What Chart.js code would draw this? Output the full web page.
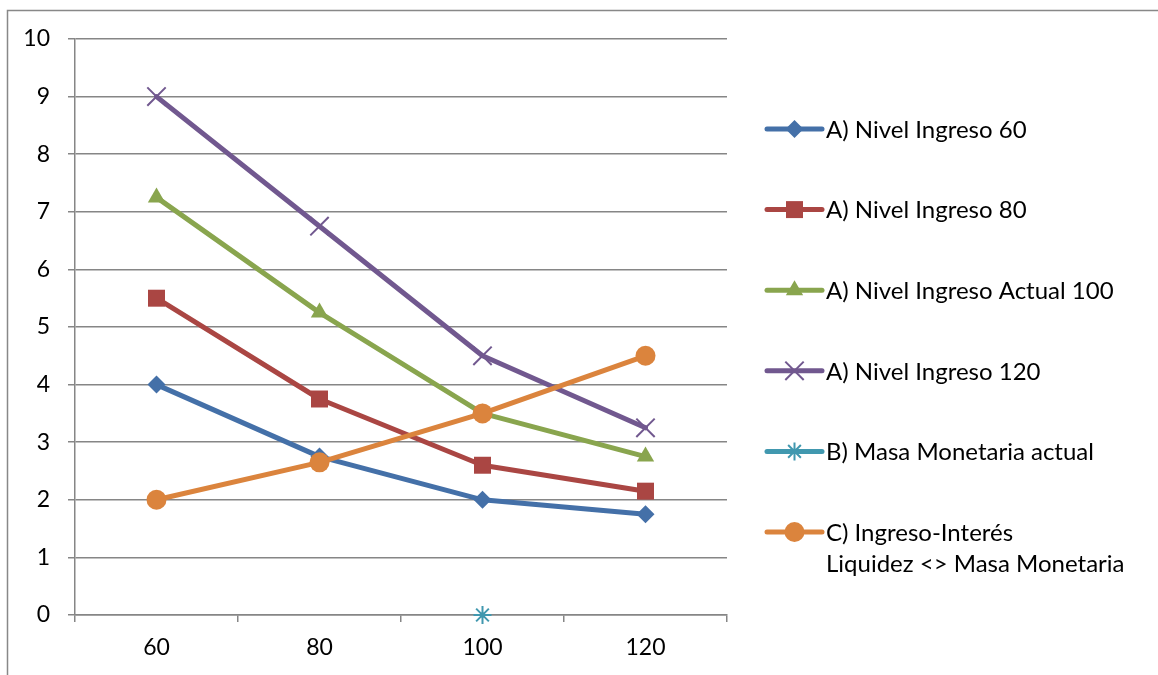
<!DOCTYPE html>
<html>
<head>
<meta charset="utf-8">
<script src="https://cdn.jsdelivr.net/npm/chart.js"></script>
<style>
  html, body { margin: 0; padding: 0; background: #fff; }
  #wrap { width: 1158px; height: 675px; position: relative; }
</style>
</head>
<body>
<div id="wrap"><canvas id="myChart"></canvas></div>
<script>
var xLabels = ["60", "80", "100", "120"];
var seriesNames = [
    "A) Nivel Ingreso 60",
    "A) Nivel Ingreso 80",
    "A) Nivel Ingreso Actual 100",
    "A) Nivel Ingreso 120",
    "B) Masa Monetaria actual",
    ["C) Ingreso-Interés", "Liquidez <> Masa Monetaria"]
];
var ingreso60 = [4, 2.75, 2, 1.75];
var ingreso80 = [5.5, 3.75, 2.6, 2.15];
var ingreso100 = [7.25, 5.25, 3.5, 2.75];
var ingreso120 = [9, 6.75, 4.5, 3.25];
var masaMonetaria = [null, null, 0, null];
var ingresoInteres = [2, 2.65, 3.5, 4.5];
var yTicks = [0, 1, 2, 3, 4, 5, 6, 7, 8, 9, 10];

var colors = ["#4470A8", "#AA4643", "#89A54E", "#71588F", "#4198AF", "#DB843D"];
var markers = ["rectRot", "rect", "triangle", "crossRot", "star", "circle"];
var radii = [9, 12, 10, 13, 9, 10];
var allData = [ingreso60, ingreso80, ingreso100, ingreso120, masaMonetaria, ingresoInteres];

var gridColor = "#868686";
var font = "Lato, 'Open Sans', sans-serif";
var fontSize = 23;
var legendFontSize = 24;

var datasets = allData.map(function (d, i) {
    var isCross = markers[i] === "crossRot" || markers[i] === "star";
    return {
        label: Array.isArray(seriesNames[i]) ? seriesNames[i].join(" ") : seriesNames[i],
        data: d,
        borderColor: colors[i],
        backgroundColor: colors[i],
        borderWidth: 5,
        borderCapStyle: "round",
        borderJoinStyle: "round",
        tension: 0,
        pointStyle: markers[i],
        pointRadius: radii[i],
        pointHoverRadius: radii[i],
        pointBorderWidth: isCross ? 2 : 0,
        pointBackgroundColor: colors[i],
        pointBorderColor: colors[i],
        clip: false,
        order: 6 - i
    };
});

// Excel-style legend: short line with the marker, then the name
var excelLegend = {
    id: "excelLegend",
    beforeDraw: function (chart) {
        var ctx = chart.ctx;
        ctx.save();
        ctx.strokeStyle = "#888888";
        ctx.lineWidth = 1.5;
        ctx.strokeRect(7.5, 10.5, 3000, 3000);
        ctx.restore();
    },
    afterDraw: function (chart) {
        var ctx = chart.ctx;
        var x0 = 767, x1 = 822, tx = 826, y = 129, step = 80.6;
        ctx.save();
        chart.data.datasets.forEach(function (ds, i) {
            ctx.strokeStyle = ds.borderColor;
            ctx.fillStyle = ds.borderColor;
            ctx.lineWidth = 5;
            ctx.lineCap = "round";
            ctx.beginPath();
            ctx.moveTo(x0, y);
            ctx.lineTo(x1, y);
            ctx.stroke();
            ctx.lineWidth = ds.pointBorderWidth || 0;
            ctx.lineCap = "butt";
            Chart.helpers.drawPoint(ctx, {
                pointStyle: ds.pointStyle,
                radius: ds.pointRadius,
                rotation: 0,
                borderWidth: ds.pointBorderWidth
            }, (x0 + x1) / 2, y);
            ctx.fillStyle = "#000";
            ctx.font = legendFontSize + "px " + font;
            ctx.textBaseline = "middle";
            ctx.textAlign = "left";
            var lines = Array.isArray(seriesNames[i]) ? seriesNames[i] : [seriesNames[i]];
            lines.forEach(function (t, k) {
                ctx.fillText(t, tx, y + 1 + k * 31);
            });
            y += step;
        });
        ctx.restore();
    }
};

Chart.defaults.font.family = font;
Chart.defaults.font.size = fontSize;
Chart.defaults.color = "#000";

new Chart("myChart", {
    type: "line",
    data: {
        labels: xLabels,
        datasets: datasets
    },
    options: {
        responsive: true,
        maintainAspectRatio: false,
        animation: false,
        layout: { padding: { left: 0, top: 39, right: 431, bottom: 0 } },
        plugins: {
            legend: { display: false },
            tooltip: { enabled: false }
        },
        scales: {
            x: {
                type: "category",
                offset: true,
                grid: {
                    offset: true,
                    drawOnChartArea: false,
                    drawTicks: true,
                    tickLength: 7,
                    color: gridColor,
                    lineWidth: 1.5
                },
                border: { color: gridColor, width: 1.5 },
                ticks: { padding: 12, font: { size: fontSize } },
                afterFit: function (s) { s.height = 60; }
            },
            y: {
                min: 0,
                max: 10,
                afterBuildTicks: function (s) {
                    s.ticks = yTicks.map(function (v) { return { value: v }; });
                },
                grid: {
                    color: gridColor,
                    lineWidth: 1.5,
                    tickLength: 7
                },
                border: { color: gridColor, width: 1.5 },
                ticks: { padding: 18, font: { size: fontSize } },
                afterFit: function (s) { s.width = 75; }
            }
        }
    },
    plugins: [excelLegend]
});
</script>
</body>
</html>
